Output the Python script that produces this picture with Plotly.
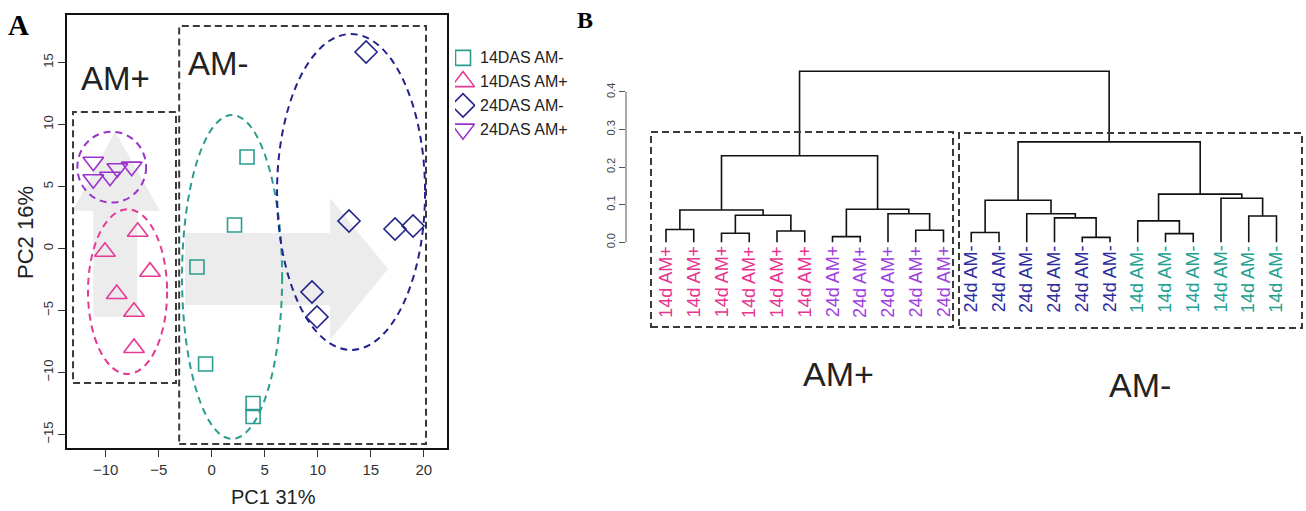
import plotly.graph_objects as go

W, H = 1306, 511


def px(x):
    return x / W


def py(y):
    return 1 - y / H


SANS = "Liberation Sans, Arial, sans-serif"
SERIF = "Liberation Serif, Times New Roman, serif"

# ---------------- Panel A: PCA scores ----------------
group_names = ["14DAS AM-", "14DAS AM+", "24DAS AM-", "24DAS AM+"]
group_colors = ["#2a9d90", "#e63995", "#23238e", "#9933cc"]
group_symbols = ["square-open", "triangle-up-open", "diamond-open", "triangle-down-open"]
group_sizes = [14, 18, 17, 18]

pc1_14das_am_minus = [3.33, 2.15, -1.39, -0.58, 3.90, 3.90]
pc2_14das_am_minus = [7.38, 1.90, -1.49, -9.31, -12.50, -13.55]
pc1_14das_am_plus = [-6.98, -10.07, -5.82, -8.96, -7.33, -7.33]
pc2_14das_am_plus = [1.35, -0.26, -1.87, -3.67, -5.10, -8.02]
pc1_24das_am_minus = [14.56, 12.95, 17.29, 18.99, 9.46, 9.93]
pc2_24das_am_minus = [15.85, 2.22, 1.57, 1.81, -3.51, -5.52]
pc1_24das_am_plus = [-11.17, -11.17, -9.59, -8.90, -7.55]
pc2_24das_am_plus = [7.00, 5.58, 5.79, 6.47, 6.60]

pc1_values = [pc1_14das_am_minus, pc1_14das_am_plus, pc1_24das_am_minus, pc1_24das_am_plus]
pc2_values = [pc2_14das_am_minus, pc2_14das_am_plus, pc2_24das_am_minus, pc2_24das_am_plus]

# group ellipses (centre and semi-axes, PC units)
ellipse_cx = [1.92, -7.94, 13.14, -9.43]
ellipse_cy = [-2.30, -3.48, 4.56, 6.56]
ellipse_rx = [4.72, 3.73, 6.98, 3.24]
ellipse_ry = [13.06, 6.64, 12.74, 2.86]

pc1_ticks = [-10, -5, 0, 5, 10, 15, 20]
pc2_ticks = [-15, -10, -5, 0, 5, 10, 15]

# ---------------- Panel B: hierarchical clustering ----------------
leaf_labels = ["14d AM+"] * 6 + ["24d AM+"] * 5 + ["24d AM-"] * 6 + ["14d AM-"] * 6
label_colors = {"14d AM+": "#e8338f", "24d AM+": "#a03ee0",
                "24d AM-": "#2c2c9c", "14d AM-": "#22a090"}
# merge table: negative = leaf (1-based, in plotted order), positive = earlier merge
merge_left = [-1, -3, -5, 2, 1, -7, -10, -9, 6, 5, -12, -16, -15, -14, 11, -19, -18, -22, -21, 17, 15, 10]
merge_right = [-2, -4, -6, 3, 4, -8, -11, 7, 8, 9, -13, -17, 12, 13, 14, -20, 16, -23, 18, 19, 20, 21]
merge_height = [0.034, 0.024, 0.030, 0.072, 0.086, 0.015, 0.032, 0.076, 0.088, 0.230,
                0.026, 0.013, 0.065, 0.076, 0.112, 0.023, 0.057, 0.070, 0.117, 0.128,
                0.267, 0.455]
height_ticks = [0.0, 0.1, 0.2, 0.3, 0.4]

fig = go.Figure()

for name, color, symbol, size, xs, ys in zip(group_names, group_colors, group_symbols,
                                             group_sizes, pc1_values, pc2_values):
    fig.add_trace(go.Scatter(
        x=xs, y=ys, mode="markers", name=name, showlegend=False,
        marker=dict(symbol=symbol, size=size, color=color, line=dict(width=1.6, color=color)),
        xaxis="x", yaxis="y"))

# legend drawn beside panel A
legend_rows = [0, 1, 2, 3]
for row, name, color, symbol, size in zip(legend_rows, group_names, group_colors,
                                          group_symbols, [15, 20, 18, 20]):
    fig.add_trace(go.Scatter(
        x=[8], y=[row], mode="markers", showlegend=False,
        marker=dict(symbol=symbol, size=size, color=color, line=dict(width=1.6, color=color)),
        xaxis="x3", yaxis="y3"))

# dendrogram segments
node_x, node_h = {}, {}
seg_x, seg_y = [], []


def child_pos(c):
    if c < 0:
        return float(-c), 0.0
    return node_x[c], node_h[c]


for k, (a, b, h) in enumerate(zip(merge_left, merge_right, merge_height), start=1):
    xa, ha = child_pos(a)
    xb, hb = child_pos(b)
    seg_x += [xa, xa, xb, xb, None]
    seg_y += [ha, h, h, hb, None]
    node_x[k] = (xa + xb) / 2
    node_h[k] = h

fig.add_trace(go.Scatter(x=seg_x, y=seg_y, mode="lines", showlegend=False,
                         line=dict(color="#111111", width=1.6),
                         xaxis="x2", yaxis="y2"))

shapes = []
# light grey direction arrows behind the scores
shapes.append(dict(type="path", xref="x", yref="y", layer="below",
                   path="M -11.17,-5.5 L -7.02,-5.5 L -7.02,3.05 L -4.88,3.05 L -9.12,9.43 "
                        "L -13.11,3.05 L -11.17,3.05 Z",
                   fillcolor="#ececec", line=dict(width=0)))
shapes.append(dict(type="path", xref="x", yref="y", layer="below",
                   path="M -2.52,1.25 L 11.16,1.25 L 11.16,4.07 L 16.63,-1.65 L 11.16,-7.38 "
                        "L 11.16,-4.56 L -2.52,-4.56 Z",
                   fillcolor="#ececec", line=dict(width=0)))
# group ellipses
for cx, cy, rx, ry, color in zip(ellipse_cx, ellipse_cy, ellipse_rx, ellipse_ry, group_colors):
    shapes.append(dict(type="circle", xref="x", yref="y", x0=cx - rx, x1=cx + rx,
                       y0=cy - ry, y1=cy + ry,
                       line=dict(color=color, width=2, dash="7px,5px")))
# dashed group boxes in panel A
box_line = dict(color="#3a3a3a", width=2, dash="7px,4px")
shapes.append(dict(type="rect", xref="x", yref="y", x0=-13.08, x1=-3.37, y0=-10.85, y1=11.0,
                   line=box_line))
shapes.append(dict(type="rect", xref="x", yref="y", x0=-3.07, x1=20.21, y0=-15.77, y1=17.94,
                   line=box_line))
# dashed group boxes in panel B
shapes.append(dict(type="rect", xref="paper", yref="paper", x0=px(651), x1=px(953),
                   y0=py(327), y1=py(132), line=box_line))
shapes.append(dict(type="rect", xref="paper", yref="paper", x0=px(959), x1=px(1302),
                   y0=py(328), y1=py(133), line=box_line))
# height axis line of the dendrogram
shapes.append(dict(type="line", xref="x2 domain", yref="y2", x0=0, x1=0,
                   y0=height_ticks[0], y1=height_ticks[-1], line=dict(color="#555555", width=1)))

annotations = []
for i, lab in enumerate(leaf_labels, start=1):
    annotations.append(dict(x=i, y=-0.004, xref="x2", yref="y2", text=lab, showarrow=False,
                            textangle=-90, xanchor="center", yanchor="top",
                            font=dict(family=SANS, size=18, color=label_colors[lab])))
for row, name in zip(legend_rows, group_names):
    annotations.append(dict(x=px(478), y=row, xref="paper", yref="y3", text=name,
                            showarrow=False, xanchor="left", yanchor="middle",
                            font=dict(family=SANS, size=16, color="#222222")))


def label(text, x, y, size, family=SANS, angle=0, color="#222222"):
    annotations.append(dict(x=px(x), y=py(y), xref="paper", yref="paper", text=text,
                            showarrow=False, xanchor="center", yanchor="middle",
                            textangle=angle, font=dict(family=family, size=size, color=color)))


label("AM+", 115, 78, 33)
label("AM-", 218.5, 63, 33)
label("AM+", 838, 374, 34)
label("AM-", 1140, 385, 34)
label("<b>A</b>", 18, 25, 29, SERIF, color="#000000")
label("<b>B</b>", 584.5, 20, 24, SERIF, color="#000000")
label("PC1 31%", 273, 497, 20, SANS)
label("PC2 16%", 25, 232, 22, SANS, angle=-90)

fig.update_layout(
    width=W, height=H, margin=dict(l=0, r=0, t=0, b=0),
    paper_bgcolor="white", plot_bgcolor="white", showlegend=False,
    shapes=shapes, annotations=annotations,
    xaxis=dict(domain=[px(67), px(447)], range=[-13.65, 22.19], tickvals=pc1_ticks,
               showgrid=False, zeroline=False, showline=True, mirror=True,
               linecolor="#111111", linewidth=1.8, ticks="outside", ticklen=7,
               tickwidth=1.2, tickcolor="#333333",
               tickfont=dict(family=SANS, size=15, color="#333333"), anchor="y"),
    yaxis=dict(domain=[py(448), py(15)], range=[-16.09, 18.83], tickvals=pc2_ticks,
               tickangle=-90, showgrid=False, zeroline=False, showline=True, mirror=True,
               linecolor="#111111", linewidth=1.8, ticks="outside", ticklen=7,
               tickwidth=1.2, tickcolor="#333333",
               tickfont=dict(family=SANS, size=13, color="#333333"), anchor="x"),
    xaxis2=dict(domain=[px(626), 1.0], range=[-0.4414, 24.063], visible=False, anchor="y2"),
    yaxis2=dict(domain=[py(330), py(50)], range=[-0.2332, 0.5114], anchor="x2",
                tickvals=height_ticks, ticktext=[f"{v:.1f}" for v in height_ticks],
                tickangle=-90, showgrid=False, zeroline=False, showline=False,
                ticks="outside", ticklen=6, tickcolor="#555555",
                tickfont=dict(family=SANS, size=11, color="#444444")),
    xaxis3=dict(domain=[px(455), px(475)], range=[0, 20], visible=False, anchor="y3"),
    yaxis3=dict(domain=[py(141), py(46)], range=[3.5, -0.5], visible=False, anchor="x3"),
)

fig.write_html("out.html")
